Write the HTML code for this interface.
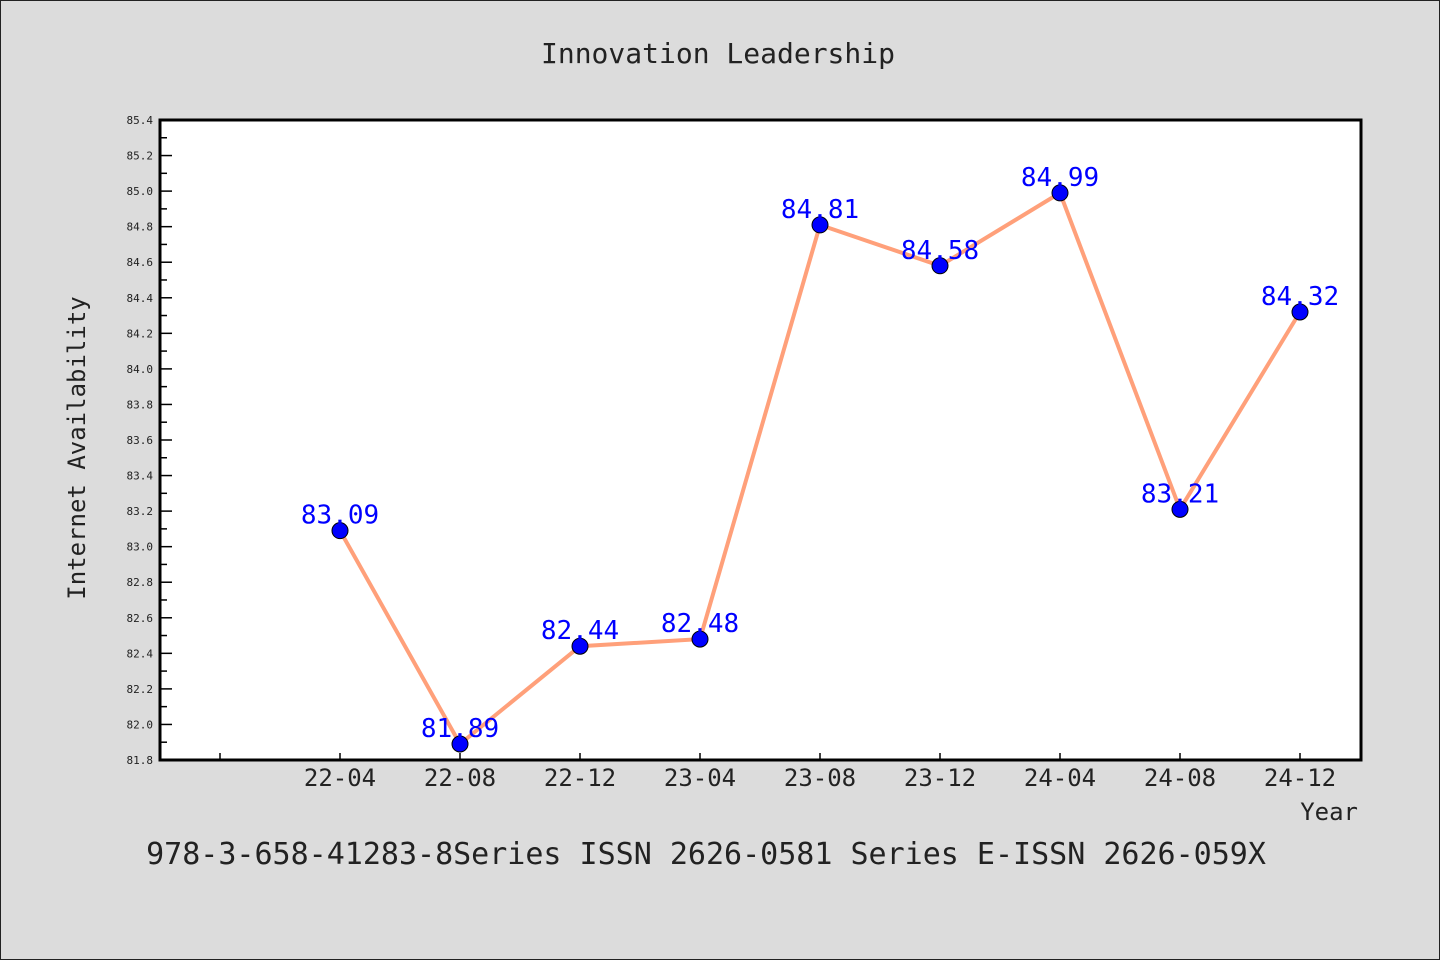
<!DOCTYPE html>
<html><head><meta charset="utf-8"><style>
body{margin:0;background:#dcdcdc;}
svg{display:block;font-family:"WenQuanYi Zen Hei Mono","WenQuanYi Zen Hei","DejaVu Sans Mono",monospace;}
</style></head><body>
<svg id="chart" width="1440" height="960">
<rect x="0.5" y="0.5" width="1439" height="959" fill="#dcdcdc" stroke="#222"/>
<text x="718" y="63" font-size="28" text-anchor="middle" fill="#222">Innovation Leadership</text>
<rect x="160" y="120" width="1201" height="640" fill="#fff"/>
<g id="grid"></g>
<g id="series"></g>
<rect x="160" y="120" width="1201" height="640" fill="none" stroke="#000" stroke-width="3"/>
<text transform="translate(85,448) rotate(-90)" font-size="24" text-anchor="middle" fill="#222">Internet Availability</text>
<text x="1358" y="820" font-size="24" text-anchor="end" fill="#222">Year</text>
<text x="706" y="864" font-size="30" text-anchor="middle" fill="#222">978-3-658-41283-8Series ISSN 2626-0581 Series E-ISSN 2626-059X</text>
</svg>
<script>
const categories=["22-04","22-08","22-12","23-04","23-08","23-12","24-04","24-08","24-12"];
const values=[83.09,81.89,82.44,82.48,84.81,84.58,84.99,83.21,84.32];
const yTicks=[81.8,82.0,82.2,82.4,82.6,82.8,83.0,83.2,83.4,83.6,83.8,84.0,84.2,84.4,84.6,84.8,85.0,85.2,85.4];
const NS="http://www.w3.org/2000/svg";
const x=i=>160+(i+1.5)*120;
const y=v=>760-(v-81.8)/3.6*640;
const g=document.getElementById('grid'),s=document.getElementById('series');
function mk(tag,at,parent){const e=document.createElementNS(NS,tag);for(const k in at)e.setAttribute(k,at[k]);parent.appendChild(e);return e;}
yTicks.forEach((t,i)=>{
 const yy=y(t);
 const l=mk('line',{x1:160,x2:172,y1:yy,y2:yy,stroke:'#000','stroke-width':1.5},g);
 
 
 if(i<yTicks.length-1){const m=mk('line',{x1:160,x2:167,y1:yy-17.8,y2:yy-17.8,stroke:'#000','stroke-width':1.5},g);
 
 }
 const tx=mk('text',{x:153,y:yy+4,'font-size':11,'text-anchor':'end',fill:'#222'},g);
 tx.textContent=t.toFixed(1);
 
 
});
for(let i=-1;i<categories.length;i++){
 const xx=x(i);
 const l=mk('line',{x1:xx,x2:xx,y1:760,y2:753,stroke:'#000','stroke-width':1.5},g);
 
 
 if(i>=0){const tx=mk('text',{x:xx,y:786,'font-size':24,'text-anchor':'middle',fill:'#222'},g);
 tx.textContent=categories[i];
 
 }
}
const pl=mk('polyline',{points:values.map((v,i)=>x(i)+','+y(v)).join(' '),fill:'none',stroke:'#ffa07a','stroke-width':4},s);


values.forEach((v,i)=>{
 const c=mk('circle',{cx:x(i),cy:y(v),r:8,fill:'#0000ff',stroke:'#000','stroke-width':1},s);
 
 
 const t=mk('text',{x:x(i),y:y(v)-7,'font-size':26,'text-anchor':'middle',fill:'#0000ff'},s);
 t.textContent=v.toFixed(2);
 
 
});
</script>
</body></html>
